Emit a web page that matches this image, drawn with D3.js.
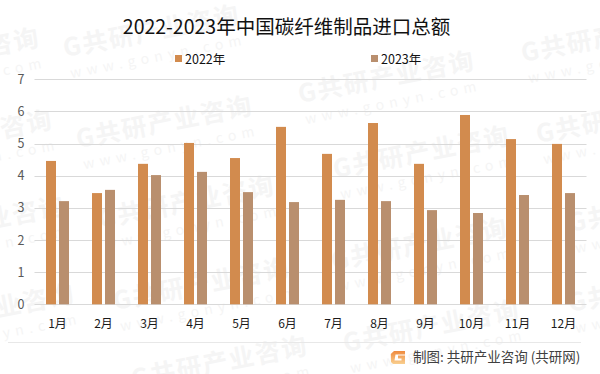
<!DOCTYPE html>
<html lang="zh">
<head>
<meta charset="UTF-8">
<title>2022-2023年中国碳纤维制品进口总额</title>
<script src="https://cdnjs.cloudflare.com/ajax/libs/d3/7.8.5/d3.min.js"></script>
<style>
    html, body { margin: 0; padding: 0; background: #fff; overflow: hidden; }
    svg { display: block; }
    text { font-family: "Noto Sans CJK SC", "Noto Sans", sans-serif; }
</style>
</head>
<body>
<div id="chart"></div>
<script>
const months = ["1月", "2月", "3月", "4月", "5月", "6月", "7月", "8月", "9月", "10月", "11月", "12月"];
const values2022 = [4.46, 3.46, 4.37, 5.02, 4.55, 5.52, 4.68, 5.64, 4.37, 5.89, 5.14, 4.99];
const values2023 = [3.21, 3.56, 4.02, 4.12, 3.49, 3.18, 3.25, 3.21, 2.93, 2.84, 3.40, 3.46];
const seriesNames = ["2022年", "2023年"];
const seriesColors = ["#d28b4e", "#b98f6e"];
const yTicks = [0, 1, 2, 3, 4, 5, 6, 7];

// watermark anchors, left end of each stamp
const stamps = [[-135, 80], [-122, 162], [-110, 248], [-100, 336], [65, 57], [78, 148], [100, 228], [115, 310], [133, 388],
    [300, 103], [335, 178], [333, 270], [345, 352], [523, 62], [538, 143], [570, 232], [570, 312]];

const width = 600, height = 374;
const svg = d3.select("#chart").append("svg").attr("width", width).attr("height", height);

// watermark
const wm = svg.append("g");
stamps.forEach(([x, y]) => {
    const g = wm.append("g").attr("transform", `translate(${x},${y}) rotate(-11)`);
    g.append("text").attr("font-size", 25).attr("font-weight", 700).attr("fill", "#f5f5f5")
        .attr("textLength", 178).text("G共研产业咨询");
    g.append("text").attr("y", 22).attr("x", 2).attr("font-size", 14).attr("fill", "#f5f5f5")
        .attr("textLength", 174).text("www.gonyn.com");
});

const x = d3.scaleBand().domain(months).range([34.5, 586.5]);
const y = d3.scaleLinear().domain([0, 7]).range([304.3, 79.3]);
const barW = 10, barGap = 3;

// grid
svg.append("g").selectAll("line").data(yTicks).join("line")
    .attr("x1", 34.5).attr("x2", 586.5)
    .attr("y1", d => Math.round(y(d)) + 0.5).attr("y2", d => Math.round(y(d)) + 0.5)
    .attr("stroke", "#d9d9d9");

// bars
[values2022, values2023].forEach((vals, s) => {
    svg.append("g").selectAll("rect").data(vals).join("rect")
        .attr("x", (d, i) => x(months[i]) + x.bandwidth() / 2 + (s === 0 ? -barW - barGap / 2 : barGap / 2))
        .attr("y", d => y(d))
        .attr("width", barW)
        .attr("height", d => y(0) - y(d))
        .attr("fill", seriesColors[s]);
});

// axes
const yAxis = svg.append("g").attr("transform", "translate(34.5,0)")
    .call(d3.axisLeft(y).tickValues(yTicks).tickFormat(d3.format("d")).tickSize(0).tickPadding(10));
yAxis.select(".domain").remove();
yAxis.selectAll("text").attr("font-size", 12.5).attr("fill", "#595959").attr("font-family", "'Liberation Sans', sans-serif");

const xAxis = svg.append("g").attr("transform", "translate(0,304.3)")
    .call(d3.axisBottom(x).tickSize(0).tickPadding(15));
xAxis.select(".domain").remove();
xAxis.selectAll("text").attr("font-size", 12).attr("fill", "#1a1a1a");

// title
svg.append("text").attr("x", 286.5).attr("y", 34).attr("text-anchor", "middle")
    .attr("font-size", 19.5).attr("fill", "#111").text("2022-2023年中国碳纤维制品进口总额");

// legend
[175, 371].forEach((lx, i) => {
    svg.append("rect").attr("x", lx).attr("y", 55).attr("width", 7).attr("height", 7).attr("fill", seriesColors[i]);
    svg.append("text").attr("x", lx + 10).attr("y", 64).attr("font-size", 12.5).attr("fill", "#111").text(seriesNames[i]);
});

// footer
svg.append("line").attr("x1", 8).attr("x2", 581).attr("y1", 342.5).attr("y2", 342.5).attr("stroke", "#e8e8e8");
const grad = svg.append("defs").append("linearGradient").attr("id", "logo").attr("x1", 0).attr("x2", 0).attr("y1", 0).attr("y2", 1);
grad.append("stop").attr("offset", 0).attr("stop-color", "#ef8a3e");
grad.append("stop").attr("offset", 1).attr("stop-color", "#f9cf8f");
svg.append("path").attr("fill", "url(#logo)")
    .attr("d", "M394 351H405V354.5H395.5L394.5 360.5H401.5V358.5H398V355.5H405V364H393L391 362L390.8 354Z");
svg.append("text").attr("x", 413).attr("y", 362).attr("font-size", 13.5).attr("fill", "#404040")
    .text("制图: 共研产业咨询 (共研网)");
</script>
</body>
</html>
